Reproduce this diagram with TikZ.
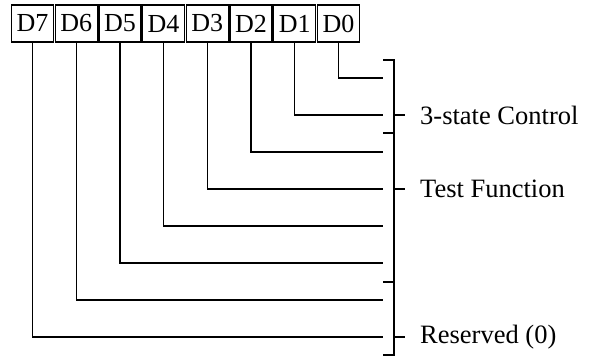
\documentclass[tikz,border=0pt]{standalone}
\usepackage{fontspec}
\setmainfont{Liberation Serif}
\begin{document}
\begin{tikzpicture}[x=1pt,y=-1pt,
  bitbox/.style={draw,line width=1.2pt,minimum width=42pt,minimum height=37pt,inner sep=0pt,font=\fontsize{26}{30}\selectfont},
  wire/.style={line width=1.3pt},
  lbl/.style={anchor=west,inner sep=0pt,font=\fontsize{26.5}{30}\selectfont}]
\useasboundingbox (0,0) rectangle (593,356);
% bit boxes
\foreach \n [count=\i from 0] in {7,6,5,4,3,2,1,0}{
  \node[bitbox] (b\n) at ({32.5+43.7*\i},23.5) {D\n};
}
% wire end points
\foreach \n/\y in {0/78,1/115,2/152,3/189,4/226,5/263,6/300,7/337}{
  \coordinate (e\n) at (383,\y);
  \draw[wire] (b\n.south) |- (e\n);
}
% bracket
\coordinate (bt) at (394,60);
\coordinate (bb) at (394,355);
\draw[wire] (383,60) -- (bt) -- (bb) -- (383,355);
\draw[wire] (383,133) -- (394,133);
\draw[wire] (383,282) -- (394,282);
% label ticks
\coordinate (t1) at (394,115);
\coordinate (t2) at (394,189);
\coordinate (t3) at (394,337);
\node[lbl] (l1) at (420,115) {3-state Control};
\node[lbl] (l2) at (420,189) {Test Function};
\node[lbl] (l3) at (420,337) {Reserved (0)};
\draw[wire] (t1) -- ++(11,0);
\draw[wire] (t2) -- ++(11,0);
\draw[wire] (t3) -- ++(11,0);
\end{tikzpicture}
\end{document}
